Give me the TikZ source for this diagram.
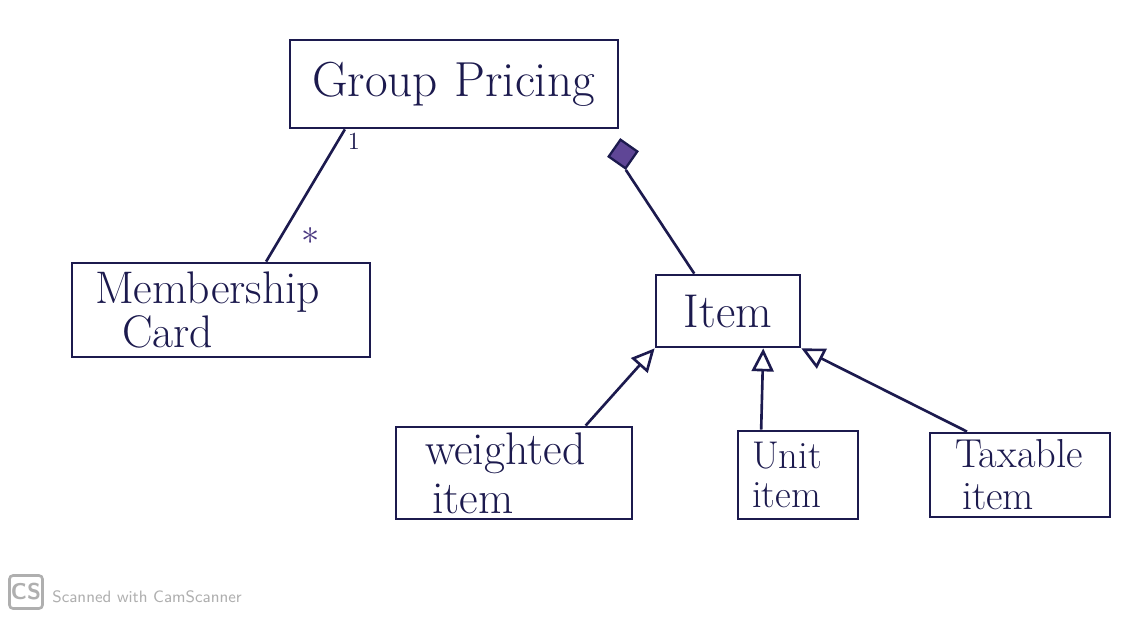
\documentclass[tikz,border=0pt]{standalone}
\usetikzlibrary{arrows.meta,calc,shapes.geometric}
\definecolor{ink}{RGB}{28,26,78}
\definecolor{wm}{RGB}{175,175,175}
\definecolor{dia}{RGB}{95,70,150}
\begin{document}
\begin{tikzpicture}[x=0.02cm,y=-0.02cm,
  cls/.style={draw=ink,line width=1.6pt,text=ink,inner ysep=0pt,align=left},
  conn/.style={draw=ink,line width=1.5pt},
  gen/.style={conn,-{Triangle[open,length=0.46cm,width=0.44cm,line width=1.5pt]}},
  lbl/.style={text=ink,font=\fontsize{14}{16}\selectfont}]
\useasboundingbox[fill=white] (0,0) rectangle (1136,619);
\node[cls,inner xsep=0.44cm,text width=5.68cm,minimum height=1.76cm,font=\fontsize{28}{30}\selectfont] (gp) at (454,84) {Group Pricing};
\node[cls,inner xsep=0.46cm,text width=5.04cm,minimum height=1.88cm,font=\fontsize{26}{25}\selectfont] (mc) at (221,310) {Membership\\\hspace*{0.54cm}Card};
\node[cls,inner xsep=0pt,align=center,minimum width=2.88cm,minimum height=1.44cm,font=\fontsize{27}{30}\selectfont] (item) at (728,311) {Item};
\node[cls,inner xsep=0.58cm,text width=3.56cm,minimum height=1.84cm,font=\fontsize{26}{28}\selectfont] (wi) at (514,473) {weighted\\\hspace*{0.14cm}item};
\node[cls,inner xsep=0.28cm,text width=1.84cm,minimum height=1.76cm,font=\fontsize{22}{22}\selectfont] (ui) at (798,475) {Unit\\item};
\node[cls,inner xsep=0.5cm,text width=2.6cm,minimum height=1.68cm,font=\fontsize{23}{24}\selectfont] (ti) at (1020,475) {Taxable\\\hspace*{0.14cm}item};
% association
\coordinate (a1) at ($(gp.south west)!0.17!(gp.south east)$);
\coordinate (a2) at ($(mc.north west)!0.65!(mc.north east)$);
\draw[conn] (a1) -- (a2);
\node[lbl] (m1) at (354,141) {1};
\node[lbl,text=dia!70!ink,font=\fontsize{20}{22}\selectfont] (m2) at (311,236) {$\ast$};
% composition
\node[diamond,draw=ink,fill=dia,line width=1.3pt,minimum width=0.6cm,minimum height=0.6cm,inner sep=0pt,rotate=10] (dm) at (623,154) {};
\draw[conn] (dm.south) -- ($(item.north west)!0.27!(item.north east)$);
% generalizations
\draw[gen] ($(wi.north west)!0.8!(wi.north east)$) -- (item.south west);
\draw[gen] ($(ui.north west)!0.2!(ui.north east)$) -- ($(item.south west)!0.74!(item.south east)$);
\draw[gen] ($(ti.north west)!0.21!(ti.north east)$) -- (item.south east);
% watermark
\node[draw=wm,fill=white,line width=1.5pt,rounded corners=2pt,minimum width=0.66cm,minimum height=0.66cm,inner sep=0pt,text=wm,font=\sffamily\bfseries\fontsize{13}{14}\selectfont] (cs) at (26,592) {CS};
\node[anchor=west,text=wm,font=\sffamily\fontsize{9.4}{10}\selectfont,inner sep=0pt] (sc) at (52,597) {Scanned with CamScanner};
\end{tikzpicture}
\end{document}
